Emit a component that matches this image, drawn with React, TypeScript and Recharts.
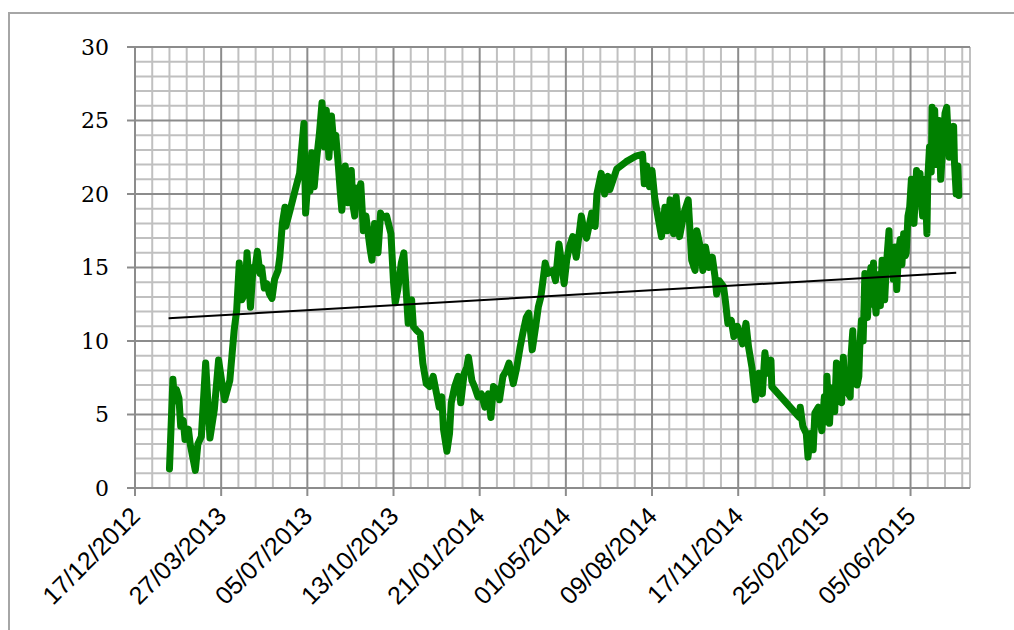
import React from "react";
import { LineChart, Line, XAxis, YAxis, ReferenceLine } from "recharts";

// x values: days after 17/12/2012
const dayOffsets = [
  40, 44, 46, 48, 51, 53, 56, 58, 62, 64, 70, 73, 77, 82, 87, 92, 97, 101, 104, 110,
  115, 118, 121, 124, 128, 130, 134, 137, 139, 142, 145, 147, 150, 153, 156, 159, 162, 166, 168, 171,
  174, 175, 180, 186, 191, 193, 196, 198, 201, 203, 205, 208, 211, 214, 217, 220, 222, 225, 228, 231,
  233, 236, 238, 240, 242, 244, 247, 249, 251, 253, 255, 257, 259, 262, 265, 268, 271, 273, 275, 278,
  280, 282, 285, 287, 292, 297, 300, 302, 305, 309, 312, 317, 321, 323, 327,
  331, 334, 338, 342, 346, 350, 353, 356, 358, 362, 365, 367, 371, 375, 378, 382, 385, 387, 391, 394,
  398, 402, 406, 410, 413, 416, 420, 423, 427, 431, 434, 439, 443, 447, 450, 454, 457, 461, 465, 468,
  471, 473, 476, 479, 485, 488, 492, 495, 498, 501, 504, 508, 512, 514, 518, 521, 524, 530, 534, 536,
  541, 545, 549, 551, 559, 570, 582, 589, 591, 594, 597, 600, 603, 607, 611, 615, 618, 621, 625, 628,
  632, 637, 642, 646, 650, 652, 656, 659, 662, 666, 670, 673, 675, 678, 683, 685, 688, 692, 695, 699,
  702, 705, 709, 712, 716, 720, 724, 728, 731, 734, 738, 739, 771, 772, 775, 779, 781, 784, 787, 789,
  793, 797, 800, 802, 803, 805, 806, 808, 810, 812, 814, 816, 818, 820, 822, 824, 825, 827, 830, 831,
  833, 834, 836, 838, 840, 841, 843, 845, 847, 848, 850, 852, 854, 855, 857, 858, 860, 862, 864, 865,
  867, 868, 870, 872, 875, 876, 878, 880, 882, 884, 886, 888, 890, 892, 894, 895, 897, 899, 901, 902,
  904, 906, 907, 909, 911, 912, 914, 916, 917, 918, 919, 920, 922, 924, 925, 927, 928, 930, 931, 933,
  935, 937, 938, 940, 942, 944, 945, 947, 948, 950, 951, 953, 955, 956,
];

const values = [
  1.3, 7.4, 5.9, 6.7, 6.1, 4.2, 4.6, 3.3, 4.0, 3.0, 1.2, 3.0, 3.5, 8.5, 3.4, 5.3, 8.7, 7.1, 6.0, 7.3,
  10.7, 12.1, 15.3, 12.8, 13.3, 16.0, 12.3, 15.0, 14.8, 16.1, 14.6, 15.0, 13.6, 13.9, 13.2, 12.9, 14.2, 14.8, 15.7, 18.0,
  19.1, 17.8, 18.9, 20.3, 21.4, 22.8, 24.8, 18.7, 21.2, 20.2, 22.8, 20.5, 22.5, 24.1, 26.2, 23.2, 25.7, 22.5, 25.3, 23.2,
  24.0, 21.9, 20.3, 18.9, 20.5, 21.9, 19.4, 20.8, 21.6, 19.2, 18.5, 20.4, 19.8, 20.7, 17.5, 18.5, 17.1, 16.2, 15.5, 18.0,
  16.5, 16.0, 18.7, 18.4, 18.5, 17.3, 14.0, 12.6, 13.5, 15.3, 16.0, 11.2, 12.8, 11.0, 10.7,
  10.5, 8.5, 7.1, 6.9, 7.6, 6.4, 5.5, 6.2, 4.0, 2.5, 3.7, 5.8, 6.9, 7.6, 5.8, 7.8, 8.2, 8.9, 7.3, 6.9,
  6.2, 6.4, 5.5, 6.4, 4.8, 6.9, 6.7, 6.0, 7.6, 8.0, 8.5, 7.1, 8.2, 9.6, 10.5, 11.6, 11.9, 9.4, 11.0, 12.3,
  13.0, 13.9, 15.3, 14.6, 14.8, 14.1, 16.6, 15.3, 13.9, 15.5, 16.4, 17.1, 15.7, 16.6, 18.5, 17.5, 17.0, 18.7, 17.8, 20.0,
  21.4, 20.0, 21.2, 20.3, 21.7, 22.2, 22.6, 22.7, 20.7, 21.9, 20.5, 21.6, 19.8, 18.4, 17.1, 19.1, 17.5, 19.6, 17.3, 19.8,
  17.1, 18.7, 19.6, 15.5, 14.8, 17.5, 16.4, 14.8, 16.4, 15.0, 15.7, 14.4, 13.2, 14.1, 13.7, 12.8, 11.2, 11.4, 10.3, 11.0,
  10.5, 9.8, 11.2, 9.6, 8.2, 6.0, 7.8, 6.4, 9.2, 7.8, 8.7, 6.9, 4.8, 5.5, 4.2, 3.7, 2.1, 3.7, 2.6, 5.1,
  5.5, 3.9, 6.2, 4.5, 7.6, 5.0, 4.4, 6.8, 6.4, 5.2, 8.5, 6.0, 6.9, 5.8, 8.9, 6.6, 7.8, 6.5, 6.2, 9.0,
  10.7, 8.0, 8.9, 7.0, 7.6, 9.5, 11.4, 10.0, 14.6, 12.0, 11.6, 14.0, 15.0, 12.5, 15.3, 13.0, 11.9, 14.5, 13.7, 12.4,
  15.5, 13.8, 12.8, 15.2, 17.5, 15.0, 16.0, 14.2, 16.4, 13.5, 16.0, 16.9, 15.2, 17.3, 15.8, 16.0, 18.5, 19.1, 21.0, 18.8,
  18.0, 20.5, 21.6, 19.5, 21.4, 19.8, 18.5, 20.2, 21.0, 19.0, 17.3, 21.0, 23.2, 21.5, 25.9, 23.8, 25.7, 22.0, 23.2, 25.0,
  21.0, 22.8, 23.7, 25.5, 25.9, 23.5, 22.5, 24.3, 23.0, 24.6, 22.1, 20.0, 21.9, 19.9,
];

// linear trend line (two end points)
const trendDays = [39, 953];
const trendValues = [11.55, 14.65];

const xTickDays = [0, 100, 200, 300, 400, 500, 600, 700, 800, 900];
const xTickLabels = [
  "17/12/2012", "27/03/2013", "05/07/2013", "13/10/2013", "21/01/2014",
  "01/05/2014", "09/08/2014", "17/11/2014", "25/02/2015", "05/06/2015",
];
const yTicks = [0, 5, 10, 15, 20, 25, 30];
const xMax = 969;

const rows: { day: number; v?: number; t?: number }[] = [];
dayOffsets.forEach((d, i) => rows.push({ day: d, v: values[i] }));
trendDays.forEach((d, i) => rows.push({ day: d, t: trendValues[i] }));
rows.sort((a, b) => a.day - b.day);

const minorX: number[] = [];
for (let d = 20; d <= xMax; d += 20) if (d % 100 !== 0) minorX.push(d);
const minorY: number[] = [];
for (let v = 1; v < 30; v++) if (v % 5 !== 0) minorY.push(v);

const MINOR = "#c0c0c0";
const MAJOR = "#8c8c8c";

const XTick = (props: any) => {
  const { x, y, payload } = props;
  const idx = xTickDays.indexOf(payload.value);
  const label = idx >= 0 ? xTickLabels[idx] : "";
  const ax = x - 6;
  const ay = y + 7;
  return (
    <text
      x={ax}
      y={ay}
      dy="0.71em"
      textAnchor="end"
      transform={`rotate(-45, ${ax}, ${ay})`}
      fontFamily="'Liberation Sans', Arial, sans-serif"
      fontSize={25}
      fill="#000"
    >
      {label}
    </text>
  );
};

export default function App() {
  return (
    <div style={{ position: "absolute", left: 0, top: 0, width: 1014, height: 630, background: "#fff", overflow: "hidden" }}>
      <div
        style={{
          position: "absolute",
          left: 8,
          top: 12,
          width: 1020,
          height: 640,
          borderLeft: "2px solid #a6a6a6",
          borderTop: "2px solid #a6a6a6",
          boxSizing: "border-box",
        }}
      />
      <div style={{ position: "absolute", left: 0, top: 0 }}>
        <LineChart width={1014} height={630} data={rows} margin={{ top: 47, right: 44, left: 0, bottom: 0 }}>
          <XAxis
            dataKey="day"
            type="number"
            domain={[0, xMax]}
            ticks={xTickDays}
            interval={0}
            height={142}
            tickSize={8}
            tickMargin={2}
            tick={<XTick />}
            axisLine={{ stroke: MAJOR, strokeWidth: 2 }}
            tickLine={{ stroke: MAJOR, strokeWidth: 2 }}
            allowDataOverflow
          />
          <YAxis
            type="number"
            domain={[0, 30]}
            ticks={yTicks}
            interval={0}
            width={135}
            tickSize={8}
            tickMargin={18}
            tick={{ fontFamily: "'DejaVu Serif', serif", fontSize: 22, fill: "#000" }}
            axisLine={{ stroke: MAJOR, strokeWidth: 2 }}
            tickLine={{ stroke: MAJOR, strokeWidth: 2 }}
            allowDataOverflow
          />
          {minorX.map((d) => (
            <ReferenceLine key={"mx" + d} x={d} stroke={MINOR} strokeWidth={2} />
          ))}
          <ReferenceLine x={xMax} stroke={MINOR} strokeWidth={2} />
          {minorY.map((v) => (
            <ReferenceLine key={"my" + v} y={v} stroke={MINOR} strokeWidth={2} />
          ))}
          {xTickDays.slice(1).map((d) => (
            <ReferenceLine key={"Mx" + d} x={d} stroke={MAJOR} strokeWidth={2} />
          ))}
          {yTicks.slice(1).map((v) => (
            <ReferenceLine key={"My" + v} y={v} stroke={MAJOR} strokeWidth={2} />
          ))}
          <Line
            dataKey="v"
            type="linear"
            stroke="#008000"
            strokeWidth={7}
            strokeLinejoin="round"
            strokeLinecap="round"
            dot={false}
            activeDot={false}
            connectNulls
            isAnimationActive={false}
          />
          <Line
            dataKey="t"
            type="linear"
            stroke="#000000"
            strokeWidth={2}
            dot={false}
            activeDot={false}
            connectNulls
            isAnimationActive={false}
          />
        </LineChart>
      </div>
    </div>
  );
}
